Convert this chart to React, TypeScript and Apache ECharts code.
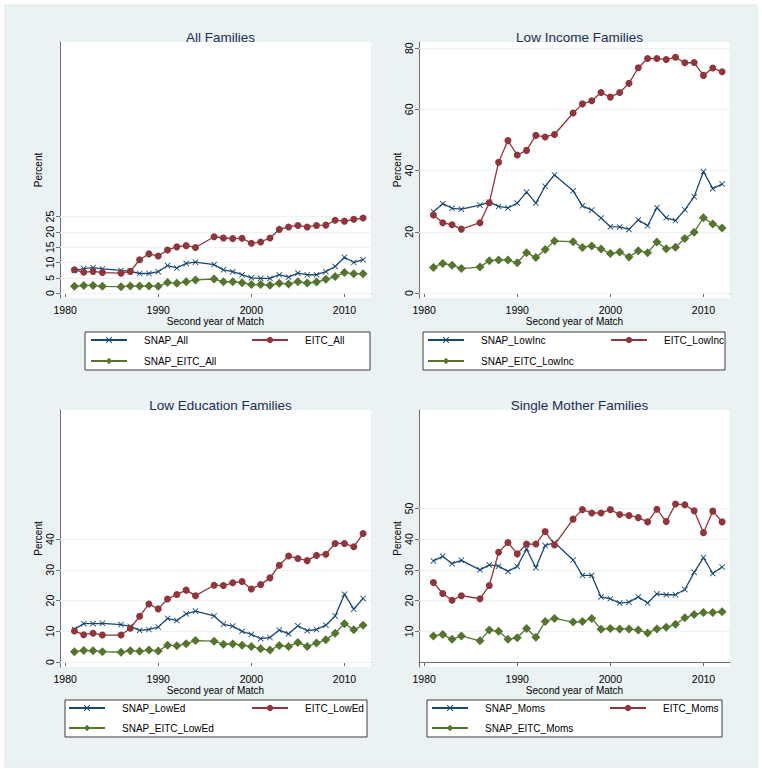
import React, { useEffect, useRef } from "react";
import * as echarts from "echarts";

const years = [1981, 1982, 1983, 1984, 1986, 1987, 1988, 1989, 1990, 1991, 1992, 1993, 1994, 1996, 1997, 1998, 1999, 2000, 2001, 2002, 2003, 2004, 2005, 2006, 2007, 2008, 2009, 2010, 2011, 2012];

// All Families
const snapAll = [7.4, 8.0, 8.3, 7.9, 7.4, 7.1, 6.4, 6.4, 7.0, 9.0, 8.2, 9.7, 10.1, 9.3, 7.6, 7.0, 6.0, 5.0, 4.8, 4.8, 6.0, 5.2, 6.5, 6.0, 6.0, 7.0, 8.7, 11.7, 10.0, 10.9];
const eitcAll = [7.6, 6.8, 7.1, 6.7, 6.5, 7.1, 10.9, 12.8, 12.1, 14.1, 15.1, 15.5, 14.9, 18.4, 18.0, 17.8, 17.9, 16.3, 16.7, 18.0, 20.8, 21.6, 22.1, 21.6, 22.1, 22.2, 23.8, 23.5, 24.1, 24.5];
const snapEitcAll = [2.2, 2.5, 2.5, 2.2, 2.1, 2.3, 2.3, 2.3, 2.2, 3.5, 3.2, 3.7, 4.3, 4.6, 3.7, 3.7, 3.4, 2.8, 2.8, 2.6, 3.2, 3.0, 3.7, 3.3, 3.6, 4.5, 5.4, 6.7, 6.3, 6.3];

// Low Income Families
const snapLowInc = [26.6, 29.2, 27.7, 27.4, 28.7, 29.7, 28.3, 27.8, 29.4, 33.0, 29.4, 34.9, 38.6, 33.4, 28.5, 27.1, 24.5, 21.7, 21.6, 20.8, 23.9, 22.0, 27.9, 24.6, 23.7, 27.2, 31.5, 39.7, 34.1, 35.6];
const eitcLowInc = [25.5, 23.0, 22.3, 20.9, 23.0, 29.5, 42.7, 49.8, 45.1, 46.6, 51.5, 51.0, 51.8, 58.8, 61.8, 62.8, 65.5, 64.0, 65.5, 68.5, 73.6, 76.6, 76.6, 76.3, 77.0, 75.2, 75.3, 71.1, 73.5, 72.3];
const snapEitcLowInc = [8.4, 9.7, 9.1, 8.0, 8.5, 10.6, 10.8, 10.8, 9.9, 13.2, 11.6, 14.2, 17.0, 16.8, 14.9, 15.4, 14.4, 12.9, 13.4, 11.8, 13.8, 13.2, 16.7, 14.5, 15.0, 17.8, 19.9, 24.6, 22.6, 21.3];

// Low Education Families
const snapLowEd = [10.7, 12.5, 12.5, 12.6, 12.2, 11.6, 10.3, 10.6, 11.4, 14.2, 13.5, 15.7, 16.6, 15.0, 12.3, 11.7, 10.0, 9.0, 7.6, 8.0, 10.4, 9.2, 11.8, 10.2, 10.6, 12.0, 15.0, 22.1, 17.2, 20.7];
const eitcLowEd = [10.1, 8.9, 9.4, 8.8, 8.8, 11.0, 14.9, 18.9, 17.3, 20.5, 22.0, 23.4, 21.6, 25.0, 24.9, 25.8, 26.2, 23.8, 25.2, 27.4, 31.5, 34.5, 33.7, 33.0, 34.7, 35.1, 38.6, 38.6, 37.5, 41.8];
const snapEitcLowEd = [3.4, 3.8, 3.7, 3.4, 3.2, 3.7, 3.5, 3.9, 3.6, 5.5, 5.3, 6.0, 7.0, 6.8, 5.8, 5.9, 5.5, 5.1, 4.3, 3.9, 5.4, 5.1, 6.4, 5.1, 6.2, 7.3, 9.4, 12.5, 10.5, 12.0];

// Single Mother Families
const snapMoms = [32.9, 34.4, 32.0, 33.1, 30.0, 31.6, 31.2, 29.5, 31.1, 36.8, 30.7, 37.9, 38.9, 33.2, 28.2, 28.2, 21.2, 20.6, 19.2, 19.5, 21.2, 19.2, 22.2, 21.9, 21.9, 23.6, 29.2, 34.0, 28.8, 30.9];
const eitcMoms = [25.9, 22.3, 20.1, 21.6, 20.6, 24.9, 35.7, 38.9, 35.2, 38.4, 38.4, 42.5, 38.1, 46.5, 49.6, 48.5, 48.5, 49.6, 48.0, 47.7, 47.0, 45.6, 49.7, 45.7, 51.4, 51.2, 49.2, 42.1, 49.1, 45.6];
const snapEitcMoms = [8.5, 9.0, 7.4, 8.5, 6.9, 10.4, 10.0, 7.4, 7.9, 10.9, 8.1, 13.2, 14.2, 13.0, 13.2, 14.2, 10.7, 10.9, 10.8, 10.8, 10.4, 9.5, 10.8, 11.3, 12.3, 14.4, 15.5, 16.1, 16.1, 16.4];

const panelTitles = ["All Families", "Low Income Families", "Low Education Families", "Single Mother Families"];
const seriesNames = [
  ["SNAP_All", "EITC_All", "SNAP_EITC_All"],
  ["SNAP_LowInc", "EITC_LowInc", "SNAP_EITC_LowInc"],
  ["SNAP_LowEd", "EITC_LowEd", "SNAP_EITC_LowEd"],
  ["SNAP_Moms", "EITC_Moms", "SNAP_EITC_Moms"],
];
const panelValues = [
  [snapAll, eitcAll, snapEitcAll],
  [snapLowInc, eitcLowInc, snapEitcLowInc],
  [snapLowEd, eitcLowEd, snapEitcLowEd],
  [snapMoms, eitcMoms, snapEitcMoms],
];
const yTicks = [
  [0, 5, 10, 15, 20, 25],
  [0, 20, 40, 60, 80],
  [0, 10, 20, 30, 40],
  [10, 20, 30, 40, 50],
];
const xTicks = [1980, 1990, 2000, 2010];
const yAxisTitle = "Percent";
const xAxisTitle = "Second year of Match";

const FONT = "'Liberation Sans', Arial, Helvetica, sans-serif";
const COLORS = ["#1a476f", "#90353b", "#55752f"];
const X_MARK = "path://M1,0 L5,4 L9,0 L10,1 L6,5 L10,9 L9,10 L5,6 L1,10 L0,9 L4,5 L0,1 Z";
const SYMBOLS = [X_MARK, "circle", "diamond"];
const SYMBOL_SIZES = [6, 7, 9];

const grids = [
  { left: 60, top: 42, width: 311, height: 256 },
  { left: 419, top: 42, width: 311, height: 256 },
  { left: 60, top: 410, width: 311, height: 257 },
  { left: 419, top: 410, width: 311, height: 257 },
];
const titleTops = [25, 393];
const legendLayout = [
  { box: [85, 332, 285, 38], col: [90, 251], rows: [341, 362] },
  { box: [423, 332, 302, 38], col: [427, 610], rows: [341, 362] },
  { box: [65, 700, 302, 37], col: [68, 251], rows: [709, 729] },
  { box: [427, 700, 295, 37], col: [431, 609], rows: [709, 729] },
];

function buildOption() {
  const axisColor = "#6e6e6e";
  const title: any[] = [];
  const xAxis: any[] = [];
  const yAxis: any[] = [];
  const series: any[] = [];
  const legend: any[] = [];
  const graphic: any[] = [
    { type: "rect", shape: { x: 5, y: 5, width: 752, height: 762 }, style: { fill: "#eaf2f3", stroke: "#dde6e8", lineWidth: 1 }, z: -10 },
  ];

  grids.forEach((g, i) => {
    title.push({
      text: panelTitles[i],
      left: g.left + g.width / 2,
      top: titleTops[i < 2 ? 0 : 1],
      textAlign: "center",
      textStyle: { fontFamily: FONT, fontSize: 13.5, fontWeight: "normal", color: "#1e2d53" },
    });
    xAxis.push({
      type: "value",
      gridIndex: i,
      min: 1979.45,
      max: 2012.85,
      name: xAxisTitle,
      nameLocation: "middle",
      nameGap: 18,
      nameTextStyle: { fontFamily: FONT, fontSize: 10, color: "#000" },
      axisLine: { show: true, lineStyle: { color: axisColor, width: 1 } },
      axisTick: { show: true, length: 4, inside: false, customValues: xTicks, lineStyle: { color: axisColor } },
      axisLabel: { customValues: xTicks, margin: 6, fontFamily: FONT, fontSize: 10.5, color: "#000", formatter: (v: number) => String(v) },
      splitLine: { show: false },
    });
    yAxis.push({
      type: "value",
      gridIndex: i,
      min: -1.6,
      max: 82,
      name: yAxisTitle,
      nameLocation: "middle",
      nameGap: 17,
      nameRotate: 90,
      nameTextStyle: { fontFamily: FONT, fontSize: 10, color: "#000" },
      axisLine: { show: true, lineStyle: { color: axisColor, width: 1 } },
      axisTick: { show: true, length: 4, inside: false, customValues: yTicks[i], lineStyle: { color: axisColor } },
      axisLabel: { customValues: yTicks[i], rotate: 90, margin: 5, fontFamily: FONT, fontSize: 10.5, color: "#000", formatter: (v: number) => String(v) },
      splitLine: { show: false },
    });
    for (let s = 0; s < 3; s++) {
      const ser: any = {
        type: "line",
        name: seriesNames[i][s],
        xAxisIndex: i,
        yAxisIndex: i,
        data: years.map((y, k) => [y, panelValues[i][s][k]]),
        symbol: SYMBOLS[s],
        symbolSize: SYMBOL_SIZES[s],
        showAllSymbol: true,
        lineStyle: { color: COLORS[s], width: 1.3 },
        itemStyle: { color: COLORS[s] },
        z: 3 + s,
      };
      if (s === 0) {
        ser.markLine = {
          silent: true,
          symbol: ["none", "none"],
          label: { show: false },
          lineStyle: { color: "#eaf2f3", width: 1, type: "solid" },
          data: yTicks[i].map((v) => ({ yAxis: v })),
          z: 1,
        };
      }
      series.push(ser);
    }
    const L = legendLayout[i];
    graphic.push({
      type: "rect",
      shape: { x: L.box[0], y: L.box[1], width: L.box[2], height: L.box[3] },
      style: { fill: "#ffffff", stroke: "#3c3c3c", lineWidth: 1 },
      z: -5,
    });
    const pos = [
      [L.col[0], L.rows[0]],
      [L.col[1], L.rows[0]],
      [L.col[0], L.rows[1]],
    ];
    for (let s = 0; s < 3; s++) {
      legend.push({
        data: [seriesNames[i][s]],
        left: pos[s][0],
        top: pos[s][1] - 6,
        padding: 0,
        itemWidth: 36,
        itemHeight: 8,
        itemGap: 0,
        selectedMode: false,
        textStyle: { fontFamily: FONT, fontSize: 10, color: "#000", padding: [0, 0, 0, 12] },
      });
    }
  });

  return {
    animation: false,
    backgroundColor: "#ffffff",
    title,
    grid: grids.map((g) => ({ ...g, show: true, backgroundColor: "#ffffff", borderWidth: 0, containLabel: false })),
    xAxis,
    yAxis,
    legend,
    series,
    graphic,
  };
}

export default function App() {
  const ref = useRef<HTMLDivElement>(null);
  useEffect(() => {
    if (!ref.current) return;
    const chart = echarts.init(ref.current, null, { renderer: "svg" });
    chart.setOption(buildOption());
    return () => chart.dispose();
  }, []);
  return <div ref={ref} style={{ position: "absolute", left: 0, top: 0, width: 762, height: 772 }} />;
}
